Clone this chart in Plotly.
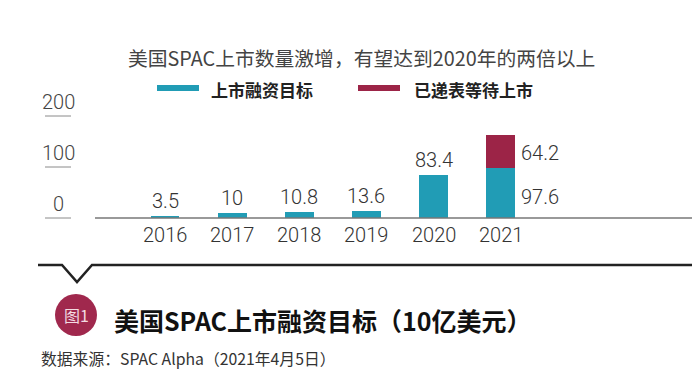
import plotly.graph_objects as go

years = ["2016", "2017", "2018", "2019", "2020", "2021"]
listed = [3.5, 10, 10.8, 13.6, 83.4, 97.6]
pending = [None, None, None, None, None, 64.2]
y_ticks = [0, 100, 200]

title = "美国SPAC上市数量激增，有望达到2020年的两倍以上"
legend_names = ["上市融资目标", "已递表等待上市"]
chart_title = "美国SPAC上市融资目标（10亿美元）"
fig_label = "图1"
source = "数据来源：SPAC Alpha（2021年4月5日）"

BLUE = "#219cb5"
RED = "#9c2447"
OFF = 8  # page body margin
W, H = 700 - OFF, 386 - OFF

def px(x):
    return (x - OFF) / W

def py(y):
    return 1 - (y - OFF) / H

NUM_FONT = "Roboto"
CJK = "Noto Sans CJK SC"

x0_px, step_px = 165.0 - OFF, 67.16
zero_px, unit_px = 218.0 - OFF, 0.51
x_range = [-x0_px / step_px, (W - x0_px) / step_px]
y_range = [-(H - zero_px) / unit_px, zero_px / unit_px]

xs = list(range(len(years)))

fig = go.Figure()
fig.add_trace(go.Bar(x=xs, y=listed, marker=dict(color=BLUE, line=dict(width=0)),
                     width=0.43, name=legend_names[0], showlegend=False, hoverinfo="skip"))
fig.add_trace(go.Bar(x=xs, y=pending, marker=dict(color=RED, line=dict(width=0)),
                     width=0.43, name=legend_names[1], showlegend=False, hoverinfo="skip"))

ann = []
shapes = []

# title
ann.append(dict(text=title, x=px(126), y=py(57), xref="paper", yref="paper",
                xanchor="left", yanchor="middle", showarrow=False,
                font=dict(family=CJK, size=19.8, color="#444444")))

# legend
leg = [(157, 199, 209, BLUE), (358, 400, 412, RED)]
for (a, b, t, c), name in zip(leg, legend_names):
    shapes.append(dict(type="rect", xref="paper", yref="paper", x0=px(a), x1=px(b),
                       y0=py(91), y1=py(85), fillcolor=c, line=dict(width=0)))
    ann.append(dict(text="<b>" + name + "</b>", x=px(t), y=py(89), xref="paper", yref="paper",
                    xanchor="left", yanchor="middle", showarrow=False,
                    font=dict(family=CJK, size=17, color="#222222")))

# y ticks (short lines with labels above)
for v in y_ticks:
    shapes.append(dict(type="line", xref="paper", yref="y", x0=px(45), x1=px(71), y0=v, y1=v,
                       line=dict(color="#8a8a8a", width=1)))
    ann.append(dict(text=str(v), x=px(58), y=v, xref="paper", yref="y",
                    xanchor="center", yanchor="bottom", yshift=0, showarrow=False,
                    font=dict(family=NUM_FONT, size=20, color="#444444", weight=300)))

# x axis line
shapes.append(dict(type="line", xref="paper", yref="y", x0=px(95), x1=1, y0=0, y1=0,
                   line=dict(color="#777777", width=1.5)))

# year labels
for i, yr in enumerate(years):
    ann.append(dict(text=yr, x=i, y=0, xref="x", yref="y", xanchor="center", yanchor="top",
                    yshift=-3, showarrow=False,
                    font=dict(family=NUM_FONT, size=20, color="#333333", weight=300)))

# value labels
for i, v in enumerate(listed[:-1]):
    ann.append(dict(text=f"{v:g}", x=i, y=v, xref="x", yref="y", xanchor="center",
                    yanchor="bottom", yshift=1, showarrow=False,
                    font=dict(family=NUM_FONT, size=20, color="#333333", weight=300)))
last = len(years) - 1
ann.append(dict(text=f"{pending[last]:g}", x=last, y=listed[last] + pending[last] / 2,
                xref="x", yref="y", xanchor="left", yanchor="middle", xshift=18, yshift=-1,
                showarrow=False, font=dict(family=NUM_FONT, size=20, color="#333333", weight=300)))
ann.append(dict(text=f"{listed[last]:g}", x=last, y=listed[last] / 2,
                xref="x", yref="y", xanchor="left", yanchor="middle", xshift=18, yshift=-4,
                showarrow=False, font=dict(family=NUM_FONT, size=20, color="#333333", weight=300)))

# separator with notch
path = (f"M {px(38)},{py(265)} L {px(62)},{py(265)} L {px(77)},{py(282)} "
        f"L {px(92)},{py(265)} L 1,{py(265)}")
shapes.append(dict(type="path", xref="paper", yref="paper", path=path,
                   line=dict(color="#222222", width=2.5)))

# figure badge
shapes.append(dict(type="circle", xref="paper", yref="paper", x0=px(55), x1=px(97),
                   y0=py(336), y1=py(294), fillcolor="#a0284d", line=dict(width=0)))
ann.append(dict(text=fig_label, x=px(76), y=py(315), xref="paper", yref="paper",
                xanchor="center", yanchor="middle", showarrow=False,
                font=dict(family=CJK, size=16, color="#f3dbe2")))

ann.append(dict(text="<b>" + chart_title + "</b>", x=px(112), y=py(320), xref="paper", yref="paper",
                xanchor="left", yanchor="middle", showarrow=False,
                font=dict(family=CJK, size=25, color="#111111")))

ann.append(dict(text=source, x=px(39), y=py(358), xref="paper", yref="paper",
                xanchor="left", yanchor="middle", showarrow=False,
                font=dict(family=CJK, size=15.8, color="#333333")))

fig.update_layout(
    width=W, height=H, margin=dict(l=0, r=0, t=0, b=0),
    paper_bgcolor="white", plot_bgcolor="white",
    barmode="stack", showlegend=False,
    xaxis=dict(range=x_range, visible=False, fixedrange=True),
    yaxis=dict(range=y_range, visible=False, fixedrange=True),
    annotations=ann, shapes=shapes,
)

fig.write_html("out.html")
